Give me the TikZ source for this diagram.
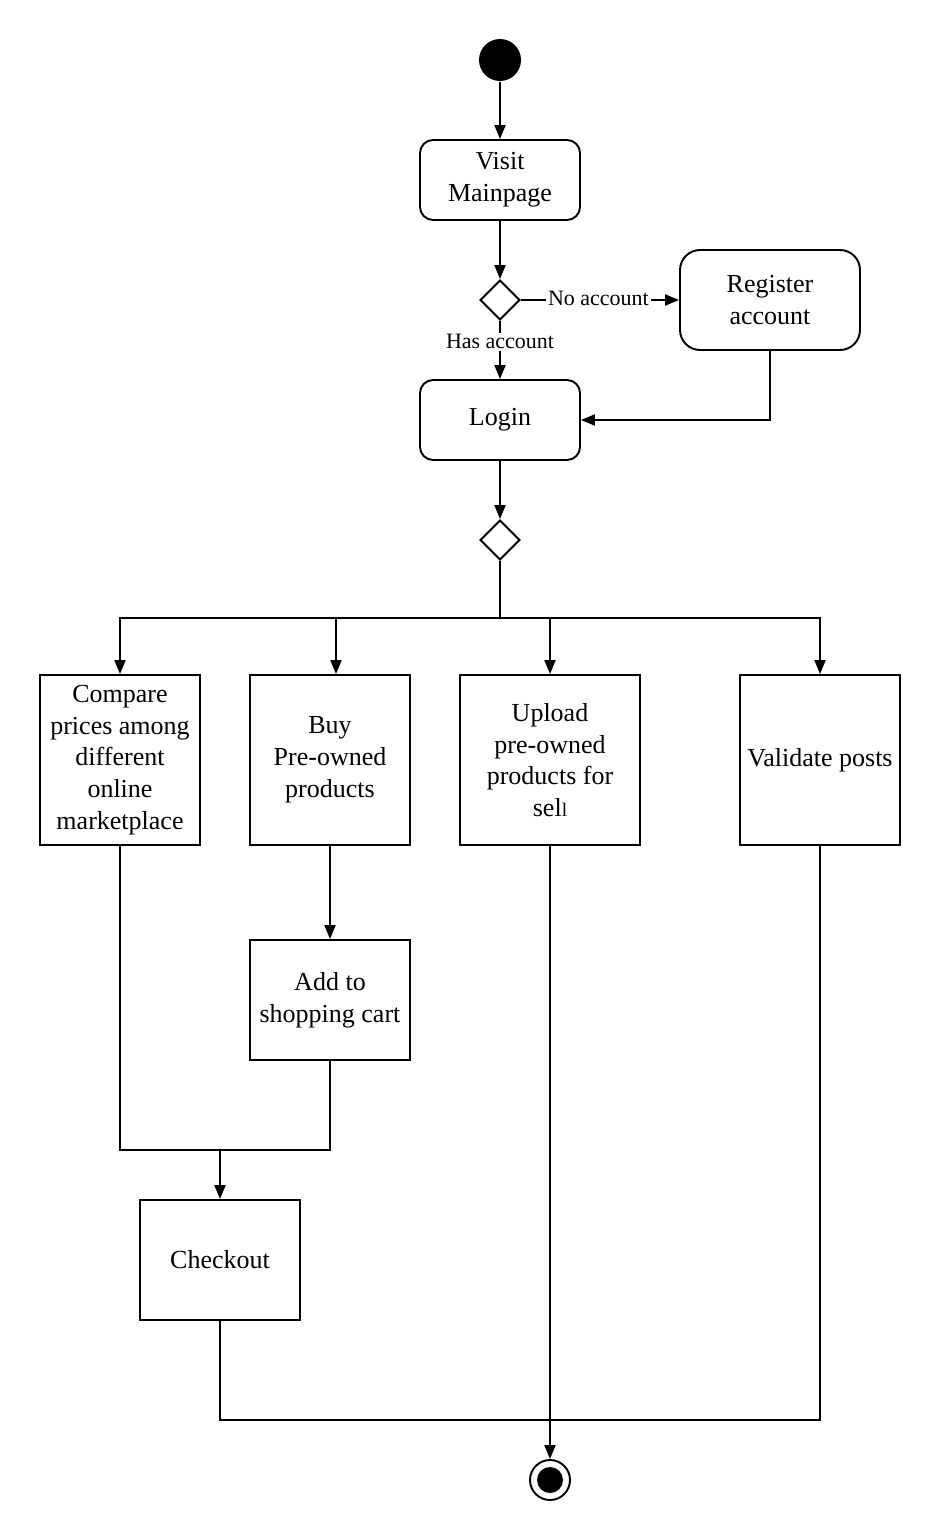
\documentclass[tikz,border=0pt]{standalone}
\usepackage{fontspec}
\setmainfont{Liberation Serif}
\usetikzlibrary{shapes.geometric,arrows.meta}
\begin{document}
\begin{tikzpicture}[x=0.02cm,y=-0.02cm,
  line width=1.1pt,
  base/.style={draw,align=center,inner sep=2pt,font=\fontsize{14.8}{18.1}\selectfont},
  act/.style={base,rounded corners=0.26cm,minimum width=3.2cm,minimum height=1.6cm},
  box/.style={base,minimum width=3.2cm},
  decide/.style={draw,diamond,aspect=1,minimum size=0.8cm,inner sep=0pt},
  lbl/.style={fill=white,inner sep=1pt,font=\fontsize{12.5}{15}\selectfont},
  arr/.style={-{Triangle[length=0.28cm,width=0.22cm]}}]
\useasboundingbox (0,0) rectangle (940,1540);

% states and activities
\node[circle,fill=black,minimum size=0.84cm,inner sep=0pt] (start) at (500,60) {};
\node[act] (visit) at (500,180) {Visit\\Mainpage};
\node[decide] (d1) at (500,300) {};
\node[act,minimum width=3.6cm,minimum height=2cm,rounded corners=0.4cm] (reg) at (770,300) {Register\\account};
\node[act] (login) at (500,420) {Login};
\node[decide] (d2) at (500,540) {};

\node[box,minimum height=3.4cm] (compare) at (120,760) {Compare\\prices among\\different\\online\\marketplace};
\node[box,minimum height=3.4cm] (buy) at (330,760) {Buy\\Pre-owned\\products};
\node[box,minimum width=3.6cm,minimum height=3.4cm] (upload) at (550,760) {Upload\\pre-owned\\products for\\sel{\fontsize{11}{13}\selectfont l}};
\node[box,minimum height=3.4cm] (validate) at (820,760) {Validate posts};
\node[box,minimum height=2.4cm] (cart) at (330,1000) {Add to\\shopping cart};
\node[box,minimum height=2.4cm] (checkout) at (220,1260) {Checkout};

\node[circle,draw,minimum size=0.8cm,inner sep=0pt] (end) at (550,1480) {};
\node[circle,fill=black,minimum size=0.52cm,inner sep=0pt] (endcore) at (550,1480) {};

% control flow
\draw[arr] (start) -- (visit);
\draw[arr] (visit) -- (d1);
\draw[arr] (d1) -- node[lbl,pos=0.49,yshift=0.04cm]{No account} (reg);
\draw[arr] (d1) -- node[lbl,pos=0.36]{Has account} (login);
\draw[arr] (reg.south) |- (login.east);
\draw[arr] (login) -- (d2);

\coordinate (fork) at (500,618);
\draw (d2.south) -- (fork);
\draw[arr] (fork) -| (compare.north);
\draw[arr] (fork) -| ([xshift=0.12cm]buy.north);
\draw[arr] (fork) -| (upload.north);
\draw[arr] (fork) -| (validate.north);

\draw[arr] (buy) -- (cart);
\coordinate (join) at (220,1150);
\draw (compare.south) |- (cart.south |- join) -- (cart.south);
\draw[arr] (join) -- (checkout);

\coordinate (merge) at (550,1420);
\draw (checkout.south) |- (validate.south |- merge) -- (validate.south);
\draw[arr] (upload.south) -- (end);
\end{tikzpicture}
\end{document}
